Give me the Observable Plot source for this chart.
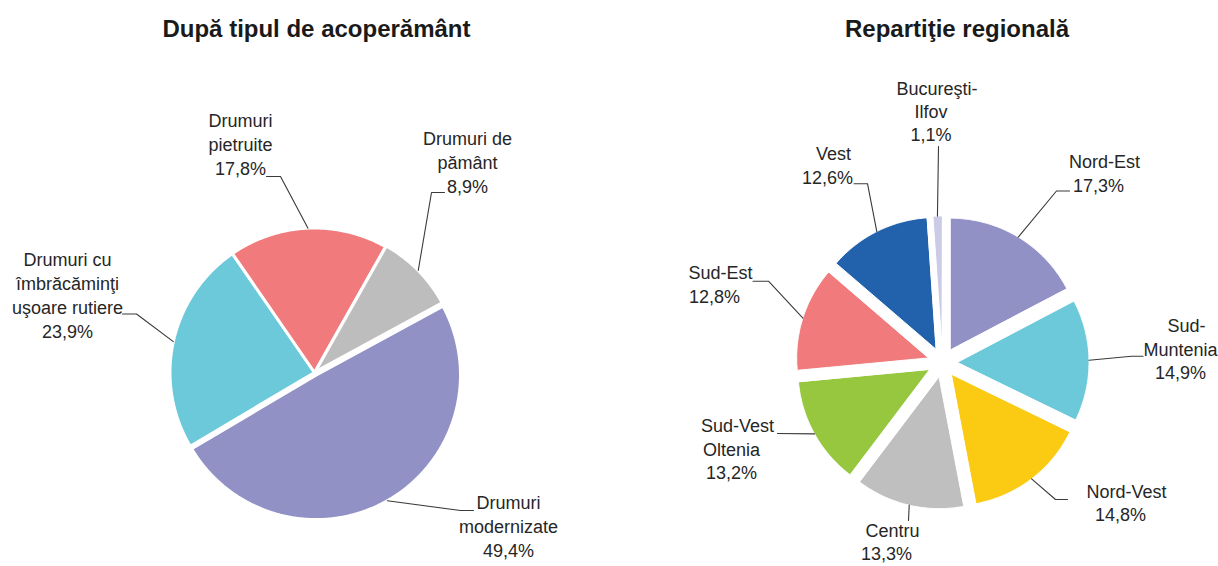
<!DOCTYPE html>
<html>
<head>
<meta charset="utf-8">
<script src="https://cdn.jsdelivr.net/npm/d3@7"></script>
<script src="https://cdn.jsdelivr.net/npm/@observablehq/plot@0.6"></script>
<style>
  html, body { margin: 0; padding: 0; background: #ffffff; }
  #chart { width: 1218px; height: 566px; }
</style>
</head>
<body>
<div id="chart"></div>
<script>
// ---------------- DATA ----------------
const leftTitle = "După tipul de acoperământ";
const leftCategories = ["Drumuri modernizate", "Drumuri cu îmbrăcăminţi uşoare rutiere", "Drumuri pietruite", "Drumuri de pământ"];
const leftValues = [49.4, 23.9, 17.8, 8.9];
const leftLabelLines = [["Drumuri", "modernizate"], ["Drumuri cu", "îmbrăcăminţi", "uşoare rutiere"], ["Drumuri", "pietruite"], ["Drumuri de", "pământ"]];
const leftColors = ["#9291C6", "#6BC9DA", "#F07A7C", "#BDBDBD"];

const rightTitle = "Repartiţie regională";
const rightCategories = ["Nord-Est", "Sud-Muntenia", "Nord-Vest", "Centru", "Sud-Vest Oltenia", "Sud-Est", "Vest", "Bucureşti-Ilfov"];
const rightValues = [17.3, 14.9, 14.8, 13.3, 13.2, 12.8, 12.6, 1.1];
const rightLabelLines = [["Nord-Est"], ["Sud-", "Muntenia"], ["Nord-Vest"], ["Centru"], ["Sud-Vest", "Oltenia"], ["Sud-Est"], ["Vest"], ["Bucureşti-", "Ilfov"]];
const rightColors = ["#9291C6", "#6BC9DA", "#FBCA12", "#BFBFBF", "#96C73E", "#F07A7C", "#2262AD", "#CBCBE7"];

// ---------------- LAYOUT ----------------
const W = 1218, H = 566;
const FONT = "'Liberation Sans', Arial, sans-serif";
const LABEL_SIZE = 18;

const leftLayout = {
  title: {x: 316, y: 29},
  cx: 314, cy: 372, r: 144.5, start: 61.5, explode: [3, 0, 0, 1], gap: 3,
  lineHeight: 24, firstDx: 0,
  labels: [
    {x: 508, y: 503, leader: [[473, 510], [460, 510]]},
    {x: 67, y: 259.5, leader: [[122, 313.5], [136, 313.5]]},
    {x: 240, y: 121, leader: [[266, 176], [280, 176]]},
    {x: 467, y: 138.6, leader: [[444, 192], [431, 192]]}
  ]
};
const rightLayout = {
  title: {x: 956.5, y: 29},
  cx: 942, cy: 362, r: 131.5, start: 0, explode: 15, gap: 1,
  lineHeight: 23.3, firstDx: 6,
  labels: [
    {x: 1098, y: 162, leader: [[1069, 190.5], [1056, 190.5]]},
    {x: 1180, y: 326, leader: [[1142.5, 355.7], [1131, 355.7]]},
    {x: 1120, y: 491.5, leader: [[1067, 499], [1055, 499]]},
    {x: 886, y: 530.5, leader: [[908, 520]]},
    {x: 731, y: 426, leader: [[777, 433]]},
    {x: 714, y: 273, leader: [[752.5, 280.7], [768, 280.7]]},
    {x: 827, y: 154, leader: [[853.5, 183.2], [867, 183.2]]},
    {x: 930.5, y: 88.5, leader: [[938, 146]]}
  ]
};

// ---------------- GEOMETRY (computed from the data) ----------------
const rad = d => d * Math.PI / 180;
const ux = d => Math.sin(rad(d));
const uy = d => -Math.cos(rad(d));
const fmtPct = v => v.toFixed(1).replace(".", ",") + "%";

function buildPie(tag, cats, values, colors, labelLines, L) {
  const total = d3.sum(values);
  const slices = [], leaders = [], texts = [];
  let a = L.start;
  cats.forEach((c, i) => {
    const span = values[i] / total * 360;
    const a0 = a, a1 = a + span, mid = (a0 + a1) / 2;
    a = a1;
    const e = Array.isArray(L.explode) ? L.explode[i] : L.explode;
    const ox = L.cx + e * ux(mid), oy = L.cy + e * uy(mid);
    const key = tag + i;
    slices.push({key, category: c, x: ox, y: oy, color: colors[i]});
    const n = Math.max(2, Math.ceil(span / 0.5));
    for (let k = 0; k <= n; k++) {
      const t = a0 + span * k / n;
      slices.push({key, category: c, x: ox + L.r * ux(t), y: oy + L.r * uy(t), color: colors[i]});
    }
    const lab = L.labels[i];
    lab.leader.forEach(([x, y]) => leaders.push({key, x, y}));
    leaders.push({key, x: L.cx + (e + L.r) * ux(mid), y: L.cy + (e + L.r) * uy(mid)});
    const lines = [...labelLines[i], fmtPct(values[i])];
    lines.forEach((t, j) => texts.push({
      text: t,
      x: lab.x + (j === 0 ? L.firstDx : 0),
      y: lab.y + j * L.lineHeight
    }));
  });
  return {slices, leaders, texts};
}

const left = buildPie("L", leftCategories, leftValues, leftColors, leftLabelLines, leftLayout);
const right = buildPie("R", rightCategories, rightValues, rightColors, rightLabelLines, rightLayout);

const titles = [
  {text: leftTitle, x: leftLayout.title.x, y: leftLayout.title.y},
  {text: rightTitle, x: rightLayout.title.x, y: rightLayout.title.y}
];

const chart = Plot.plot({
  width: W,
  height: H,
  margin: 0,
  x: {domain: [0, W], range: [0, W], axis: null},
  y: {domain: [0, H], range: [0, H], axis: null},
  color: {type: "identity"},
  style: {background: "#ffffff", fontFamily: FONT},
  marks: [
    Plot.line(left.slices, {x: "x", y: "y", z: "key", fill: "color", stroke: "#ffffff", strokeWidth: leftLayout.gap, curve: "linear-closed"}),
    Plot.line(right.slices, {x: "x", y: "y", z: "key", fill: "color", stroke: "#ffffff", strokeWidth: rightLayout.gap, curve: "linear-closed"}),
    Plot.line(left.leaders, {x: "x", y: "y", z: "key", stroke: "#3a3a3a", strokeWidth: 1.1, curve: "linear"}),
    Plot.line(right.leaders, {x: "x", y: "y", z: "key", stroke: "#3a3a3a", strokeWidth: 1.1, curve: "linear"}),
    Plot.text(left.texts, {x: "x", y: "y", text: "text", fontSize: LABEL_SIZE, fill: "#262626", textAnchor: "middle", fontFamily: FONT}),
    Plot.text(right.texts, {x: "x", y: "y", text: "text", fontSize: LABEL_SIZE, fill: "#262626", textAnchor: "middle", fontFamily: FONT}),
    Plot.text(titles, {x: "x", y: "y", text: "text", fontSize: 24, fontWeight: "bold", fill: "#1a1a1a", textAnchor: "middle", fontFamily: FONT})
  ]
});
document.getElementById("chart").appendChild(chart);
</script>
</body>
</html>
